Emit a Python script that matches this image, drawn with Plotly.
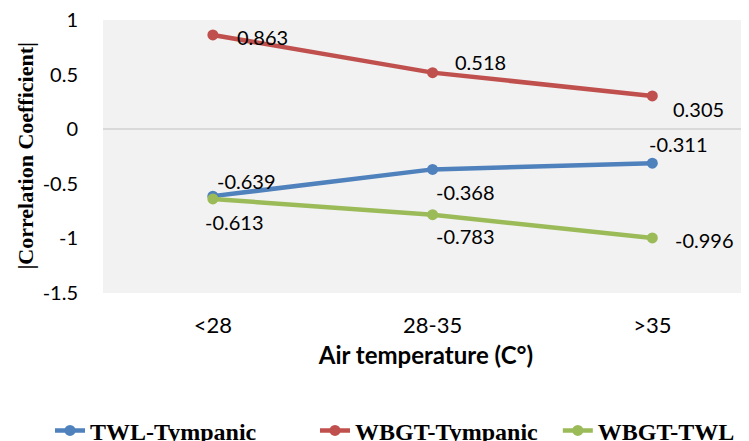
import plotly.graph_objects as go

categories = ["<28", "28-35", ">35"]
twl_tympanic = [-0.613, -0.368, -0.311]
wbgt_tympanic = [0.863, 0.518, 0.305]
wbgt_twl = [-0.639, -0.783, -0.996]
series_names = ["TWL-Tympanic", "WBGT-Tympanic", "WBGT-TWL"]
y_ticks = [1, 0.5, 0, -0.5, -1, -1.5]
y_title = "|Correlation Coefficient|"
x_title = "Air temperature (C°)"

colors = ["#4f81bd", "#c0504d", "#9bbb59"]
# label pixel offsets (xshift, yshift) per series / point
offsets = [
    [(-10, -26), (1, -23), (-5, 19)],
    [(22, -2), (20, 11), (19, -13)],
    [(2, 18), (1, -21), (21, -2)],
]
legend_ids = ["legend", "legend2", "legend3"]
legend_x = [0.0567, 0.4143, 0.742]

fig = go.Figure()
all_series = [twl_tympanic, wbgt_tympanic, wbgt_twl]
annotations = []
for name, vals, col, offs, lid in zip(series_names, all_series, colors, offsets, legend_ids):
    fig.add_trace(go.Scatter(
        x=categories, y=vals, name=name, mode="lines+markers",
        line=dict(color=col, width=4.5),
        marker=dict(color=col, size=11),
        legend=lid,
    ))
    for c, v, (dx, dy) in zip(categories, vals, offs):
        annotations.append(dict(
            x=c, y=v, xref="x", yref="y", text=f"{v:.3f}", showarrow=False,
            xanchor="left", yanchor="middle", xshift=dx, yshift=dy,
            font=dict(family="Lato", size=20, color="#000000"),
        ))

annotations.append(dict(
    text=y_title, xref="paper", yref="paper", x=-0.1207, y=0.5,
    xanchor="center", yanchor="middle", textangle=-90, showarrow=False,
    font=dict(family="Liberation Serif", size=22, color="#000000", weight="bold"),
))

legend_style = dict(
    orientation="h", xref="container", yref="paper",
    xanchor="left", y=-0.505, yanchor="middle",
    font=dict(family="Liberation Serif", size=24, color="#000000", weight="bold"),
    bgcolor="rgba(0,0,0,0)", itemwidth=30,
)

fig.update_layout(
    width=741, height=433,
    margin=dict(l=95, r=0, t=12, b=148, autoexpand=False),
    paper_bgcolor="#ffffff", plot_bgcolor="#f2f2f2",
    annotations=annotations,
    showlegend=True,
    legend=dict(legend_style, x=legend_x[0]),
    legend2=dict(legend_style, x=legend_x[1]),
    legend3=dict(legend_style, x=legend_x[2]),
    xaxis=dict(
        type="category", range=[-0.5, 2.44],
        showgrid=False, zeroline=False, showline=False,
        tickfont=dict(family="Lato", size=22, color="#000000"),
        ticklabelstandoff=17,
        title=dict(text=x_title, standoff=10,
                   font=dict(family="Lato", size=24, color="#000000", weight="bold")),
    ),
    yaxis=dict(
        range=[-1.5, 1], tickvals=y_ticks,
        ticktext=[f"{t:g}" for t in y_ticks],
        showgrid=False, zeroline=True, zerolinecolor="#d9d9d9", zerolinewidth=1.5,
        showline=False,
        ticks="outside", ticklen=20, tickcolor="rgba(0,0,0,0)",
        tickfont=dict(family="Lato", size=20, color="#000000"),
        ticklabeloverflow="allow",
    ),
)

fig.write_html("out.html")
